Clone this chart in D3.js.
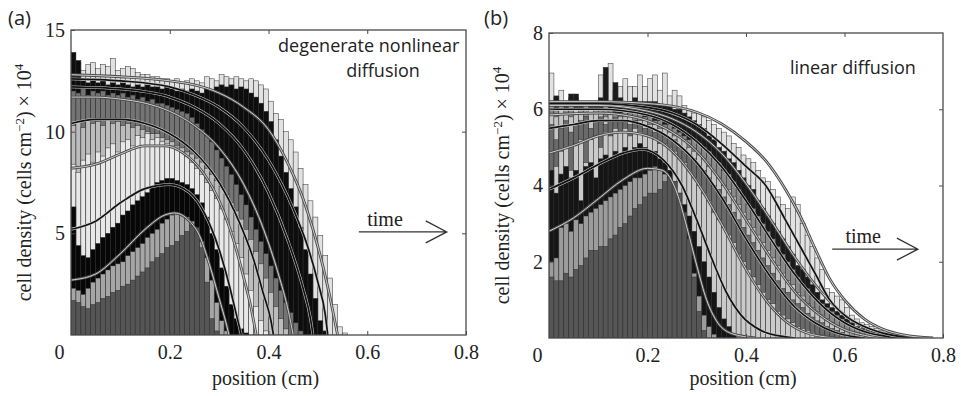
<!DOCTYPE html>
<html>
<head>
<meta charset="utf-8">
<script src="https://cdn.jsdelivr.net/npm/d3@7"></script>
<style>
  body { margin: 0; background: #fff; }
  svg { display: block; }
</style>
</head>
<body>
<svg id="chart" width="961" height="396"></svg>
<script>
// ---- data (x in cm, densities in cells cm^-2 x 10^4) ----
const binWidth = 0.01;
const xTicks = [0, 0.2, 0.4, 0.6, 0.8];

// panel (a): histograms, earliest time first
const histA0 = [1.7,1.6,1.4,1.3,1.5,1.6,1.8,1.9,2.1,2.2,2.4,2.5,2.7,2.9,3.1,3.3,3.6,3.8,4.0,4.3,4.4,4.6,4.9,5.1,5.4,5.3,4.3,2.6,0.8,0.2];
const histA1 = [2.3,2.2,2.0,2.3,2.6,2.8,3.0,3.2,3.4,3.5,3.6,3.9,4.1,4.3,4.5,4.8,5.0,5.2,5.5,5.7,5.9,6.0,5.9,5.8,5.6,5.2,4.6,3.8,2.7,1.6,0.7,0.2];
const histA2 = [6.3,4.4,3.9,3.8,4.2,4.5,4.8,5.0,5.3,5.5,5.9,6.1,6.4,6.6,6.8,7.0,7.3,7.5,7.6,7.7,7.7,7.6,7.5,7.4,7.2,6.9,6.5,5.8,5.0,4.2,3.3,2.4,1.5,0.8,0.3,0.1];
const histA3 = [8.4,8.0,8.6,8.9,8.5,9.0,8.8,9.2,9.4,9.0,9.5,9.6,9.3,9.8,9.7,9.9,9.6,9.7,9.5,9.4,9.3,9.2,9.0,8.8,8.5,8.2,7.9,7.5,7.1,6.7,6.2,5.7,5.1,4.5,3.8,3.0,2.2,1.4,0.7,0.2];
const histA4 = [10.3,10.5,10.2,10.6,10.4,10.5,10.3,10.6,10.4,10.5,10.3,10.4,10.2,10.3,10.1,10.0,9.9,9.9,9.7,9.6,9.5,9.3,9.2,9.0,8.9,8.7,8.5,8.2,7.9,7.6,7.3,6.9,6.5,6.1,5.7,5.2,4.7,4.1,3.5,2.8,2.1,1.4,0.8,0.3];
const histA5 = [12.0,11.9,12.1,11.8,12.0,11.9,12.0,11.8,11.9,11.8,11.9,11.7,11.8,11.6,11.7,11.5,11.6,11.4,11.4,11.3,11.2,11.1,11.0,10.9,10.7,10.4,10.1,9.8,9.5,9.1,8.7,8.3,7.9,7.4,6.9,6.4,5.8,5.2,4.6,4.0,3.4,2.8,2.2,1.6,1.1,0.6,0.2];
const histA6 = [13.9,13.5,12.5,12.4,12.5,12.4,12.5,12.3,12.4,12.3,12.4,12.3,12.2,12.3,12.2,12.3,12.2,12.2,12.1,12.2,12.1,12.0,12.1,12.0,12.1,12.0,11.9,12.1,12.0,12.2,12.3,12.2,12.3,12.1,12.2,12.1,11.9,11.7,11.4,11.0,10.5,9.6,8.8,8.0,7.2,6.3,5.3,4.2,3.0,1.8,0.7,0.2];
const histA7 = [13.2,13.4,13.0,13.3,13.4,13.1,13.3,13.2,13.6,13.0,13.1,13.2,13.1,12.9,12.8,12.8,12.7,12.7,12.6,12.6,12.5,12.6,12.4,12.5,12.6,12.5,12.4,12.7,12.6,12.5,12.8,12.7,12.6,12.7,12.6,12.5,12.6,12.5,12.3,12.1,11.5,10.9,10.6,10.0,9.6,9.0,8.2,7.4,6.6,5.8,4.9,3.9,2.8,1.5,0.4,0.1];

// panel (a): model solutions [x, density]
const curveA0 = [[0,2.7],[0.05,3.0],[0.1,4.0],[0.15,5.2],[0.19,5.9],[0.21,6.0],[0.24,5.6],[0.26,4.9],[0.28,3.5],[0.30,1.8],[0.315,0.5],[0.32,0]];
const curveA1 = [[0,5.2],[0.05,5.6],[0.1,6.5],[0.15,7.2],[0.2,7.4],[0.24,7.0],[0.27,6.0],[0.3,4.2],[0.32,2.5],[0.335,1.0],[0.345,0]];
const curveA2 = [[0,8.2],[0.05,8.4],[0.1,8.9],[0.15,9.3],[0.19,9.3],[0.23,8.9],[0.27,7.9],[0.3,6.6],[0.33,4.6],[0.35,2.8],[0.365,1.3],[0.375,0]];
const curveA3 = [[0,10.4],[0.05,10.6],[0.1,10.6],[0.15,10.4],[0.2,9.9],[0.25,9.0],[0.3,7.5],[0.34,5.6],[0.37,3.7],[0.39,2.0],[0.405,0.7],[0.41,0]];
const curveA4 = [[0,11.7],[0.05,11.7],[0.1,11.6],[0.15,11.4],[0.2,11.0],[0.25,10.3],[0.3,9.2],[0.35,7.4],[0.39,5.2],[0.42,3.0],[0.44,1.2],[0.45,0]];
const curveA5 = [[0,12.2],[0.1,12.1],[0.2,11.7],[0.25,11.2],[0.3,10.4],[0.35,9.1],[0.4,7.0],[0.44,4.6],[0.47,2.3],[0.485,0.8],[0.49,0]];
const curveA6 = [[0,12.6],[0.1,12.5],[0.2,12.2],[0.25,11.8],[0.3,11.2],[0.35,10.2],[0.4,8.6],[0.45,6.2],[0.48,4.3],[0.5,2.6],[0.515,1.0],[0.52,0]];
const curveA7 = [[0,12.8],[0.1,12.7],[0.2,12.5],[0.25,12.3],[0.3,11.9],[0.35,11.2],[0.4,10.1],[0.44,8.4],[0.47,6.7],[0.49,5.2],[0.51,3.4],[0.525,1.8],[0.535,0.6],[0.54,0]];

// panel (b): histograms, earliest time first
const histB0 = [1.6,1.5,1.5,1.7,1.6,1.8,1.9,2.1,2.3,2.3,2.4,2.4,2.6,2.7,2.9,3.0,3.2,3.4,3.5,3.7,3.8,3.8,3.9,4.1,4.2,4.1,3.8,3.3,2.6,1.6,0.7,0.2];
const histB1 = [2.0,2.1,2.9,3.0,2.8,3.1,3.0,3.2,3.3,3.4,3.5,3.6,3.7,3.8,3.9,4.0,4.1,4.2,4.2,4.3,4.4,4.5,4.4,4.3,4.1,3.8,3.4,2.9,2.3,1.7,1.1,0.6,0.3,0.1];
const histB2 = [4.4,3.8,4.3,4.5,4.2,4.4,3.6,4.5,4.6,4.2,4.7,4.8,4.7,4.9,4.8,5.0,4.9,5.0,5.1,5.0,4.9,4.9,4.7,4.6,4.4,4.1,3.8,3.5,3.2,2.8,2.4,2.0,1.6,1.2,0.8,0.5,0.3,0.1];
const histB3 = [4.0,4.5,4.9,5.0,4.4,5.1,5.2,4.6,5.2,5.3,5.0,5.4,5.3,5.5,5.4,5.5,5.3,5.5,5.4,5.3,5.3,5.2,5.1,5.1,5.0,4.9,4.7,4.6,4.4,4.2,4.0,3.8,3.6,3.3,3.1,2.9,2.7,2.5,2.2,2.0,1.8,1.6,1.4,1.2,1.0,0.9,0.7,0.6,0.5,0.4,0.3,0.25,0.2,0.15,0.1,0.08,0.05];
const histB4 = [5.6,5.2,5.5,5.7,5.4,5.6,5.7,5.8,5.5,5.7,5.8,5.6,5.7,5.8,5.7,5.7,5.6,5.7,5.6,5.5,5.5,5.4,5.4,5.3,5.2,5.2,5.0,4.9,4.8,4.7,4.5,4.4,4.2,4.0,3.9,3.7,3.5,3.3,3.1,2.9,2.7,2.5,2.3,2.1,1.9,1.7,1.5,1.3,1.2,1.0,0.9,0.8,0.65,0.55,0.45,0.4,0.3,0.25,0.2,0.15,0.1,0.08,0.05];
const histB5 = [5.9,5.8,6.0,5.9,5.8,6.0,5.9,5.8,6.0,5.9,5.9,5.8,5.9,5.9,5.8,5.8,5.8,5.7,5.7,5.7,5.6,5.6,5.5,5.5,5.4,5.3,5.3,5.2,5.0,4.9,4.8,4.7,4.5,4.4,4.2,4.0,3.9,3.7,3.5,3.3,3.1,2.9,2.7,2.5,2.3,2.1,1.9,1.7,1.5,1.4,1.2,1.1,0.9,0.8,0.7,0.6,0.5,0.4,0.3,0.25,0.2,0.15,0.1,0.08,0.06,0.04];
const histB6 = [6.1,6.0,6.1,6.0,6.1,6.0,6.0,6.1,6.0,6.0,6.0,6.1,6.0,5.9,5.9,6.0,5.9,5.9,5.9,5.8,5.8,5.7,5.7,5.6,5.6,5.5,5.4,5.3,5.2,5.2,5.1,5.0,4.9,4.7,4.6,4.4,4.3,4.1,3.9,3.7,3.5,3.4,3.2,3.0,2.8,2.6,2.4,2.2,2.0,1.8,1.6,1.4,1.3,1.1,1.0,0.9,0.8,0.7,0.6,0.5,0.4,0.3,0.25,0.2,0.15,0.1,0.08,0.05,0.03];
const histB7 = [6.2,6.35,6.2,6.2,6.4,6.4,6.2,6.2,6.2,6.2,6.3,7.1,6.2,6.7,6.3,6.2,6.2,6.3,6.2,6.2,6.2,6.2,6.1,6.1,6.1,6.0,6.0,5.9,5.8,5.7,5.6,5.5,5.3,5.2,5.0,4.9,4.7,4.6,4.4,4.2,4.0,3.9,3.6,3.4,3.2,3.0,2.8,2.6,2.4,2.2,1.9,1.8,1.6,1.4,1.2,1.0,0.9,0.8,0.7,0.6,0.5,0.4,0.3,0.25,0.2,0.15,0.1,0.08,0.06,0.04,0.03,0.02];
const histB8 = [6.95,6.3,6.5,6.2,6.3,6.3,6.2,6.2,6.2,6.2,6.9,6.9,7.2,6.5,6.6,6.8,6.6,6.6,6.9,6.6,6.8,6.9,6.5,6.95,6.35,6.5,6.35,6.1,6.0,5.9,5.9,5.8,5.7,5.6,5.5,5.4,5.3,5.1,5.0,4.8,4.7,4.6,4.4,4.2,4.1,3.9,3.7,3.5,3.4,3.7,3.5,3.0,2.7,2.4,2.1,1.8,1.3,1.2,1.1,1.0,0.8,0.6,0.5,0.4,0.35,0.3,0.25,0.2,0.15,0.12,0.1,0.08,0.06,0.05];

// panel (b): model solutions [x, density]
const curveB0 = [[0,2.8],[0.05,3.15],[0.1,3.65],[0.15,4.15],[0.2,4.45],[0.23,4.4],[0.26,3.8],[0.28,2.9],[0.30,1.9],[0.32,1.0],[0.34,0.45],[0.37,0.12],[0.42,0]];
const curveB1 = [[0,3.9],[0.05,4.2],[0.1,4.55],[0.15,4.85],[0.19,4.95],[0.23,4.7],[0.27,4.0],[0.3,3.1],[0.33,2.1],[0.36,1.2],[0.39,0.6],[0.43,0.2],[0.48,0.03],[0.5,0]];
const curveB2 = [[0,4.85],[0.05,5.05],[0.1,5.3],[0.15,5.4],[0.2,5.3],[0.25,4.9],[0.3,4.1],[0.35,3.0],[0.4,1.8],[0.44,1.0],[0.48,0.45],[0.52,0.15],[0.56,0.03],[0.58,0]];
const curveB3 = [[0,5.5],[0.05,5.6],[0.1,5.7],[0.15,5.7],[0.2,5.55],[0.25,5.2],[0.3,4.6],[0.35,3.7],[0.4,2.6],[0.45,1.6],[0.5,0.8],[0.54,0.4],[0.58,0.15],[0.62,0.03],[0.64,0]];
const curveB4 = [[0,5.85],[0.1,5.9],[0.15,5.85],[0.2,5.7],[0.25,5.4],[0.3,4.9],[0.35,4.1],[0.4,3.1],[0.45,2.1],[0.5,1.2],[0.55,0.6],[0.6,0.22],[0.64,0.07],[0.67,0]];
const curveB5 = [[0,6.0],[0.1,6.0],[0.2,5.85],[0.25,5.6],[0.3,5.15],[0.35,4.5],[0.4,3.6],[0.45,2.6],[0.5,1.65],[0.55,0.9],[0.6,0.4],[0.65,0.13],[0.69,0.03],[0.7,0]];
const curveB6 = [[0,6.1],[0.1,6.1],[0.2,5.95],[0.25,5.75],[0.3,5.4],[0.35,4.85],[0.4,4.05],[0.45,3.1],[0.5,2.1],[0.55,1.25],[0.6,0.6],[0.65,0.22],[0.7,0.06],[0.72,0]];
const curveB7 = [[0,6.15],[0.1,6.15],[0.2,6.05],[0.25,5.9],[0.3,5.6],[0.35,5.1],[0.4,4.5],[0.44,4.0],[0.48,3.1],[0.51,2.4],[0.54,1.7],[0.57,1.0],[0.6,0.6],[0.64,0.3],[0.68,0.12],[0.74,0]];
const curveB8 = [[0,6.2],[0.1,6.2],[0.2,6.15],[0.25,6.08],[0.3,5.92],[0.35,5.62],[0.4,5.15],[0.44,4.65],[0.48,3.9],[0.51,3.2],[0.54,2.35],[0.57,1.55],[0.6,1.0],[0.64,0.5],[0.68,0.22],[0.72,0.08],[0.78,0]];

// ---- styling ----
const fillsA = ['#555555', '#a6a6a6', '#070707', '#e8e8e8', '#bcbcbc', '#747474', '#0d0d0d', '#e2e2e2'];
const tonesA = ['g', 'k', 'g', 'k', 'g', 'k', 'k', 'g'];
const fillsB = ['#565656', '#9c9c9c', '#151515', '#cacaca', '#6a6a6a', '#c4c4c4', '#8a8a8a', '#1a1a1a', '#e2e2e2'];
const tonesB = ['g', 'k', 'g', 'k', 'g', 'k', 'g', 'k', 'g'];

const svg = d3.select('#chart');
const serif = "'Liberation Serif', 'DejaVu Serif', serif";
const sans = "'Open Sans', 'Noto Sans', sans-serif";

function drawPanel(p) {
  const x = d3.scaleLinear().domain([0, 0.8]).range([p.left, p.right]);
  const y = d3.scaleLinear().domain([0, p.yMax]).range([p.bottom, p.top]);
  const g = svg.append('g');

  g.append('clipPath').attr('id', 'clip-' + p.id)
    .append('rect')
    .attr('x', p.left).attr('y', p.top)
    .attr('width', p.right - p.left).attr('height', p.bottom - p.top);

  const plot = g.append('g').attr('clip-path', 'url(#clip-' + p.id + ')');

  // histograms, latest (widest) at the back
  for (let i = p.hists.length - 1; i >= 0; i--) {
    plot.append('g')
      .selectAll('rect')
      .data(p.hists[i])
      .join('rect')
      .attr('x', (d, k) => x(k * binWidth))
      .attr('width', (d, k) => x((k + 1) * binWidth) - x(k * binWidth))
      .attr('y', d => y(d))
      .attr('height', d => y(0) - y(d))
      .attr('fill', p.fills[i])
      .attr('stroke', '#2e2e2e')
      .attr('stroke-width', 0.5);
  }

  const line = d3.line()
    .x(d => x(d[0]))
    .y(d => y(d[1]))
    .curve(d3.curveMonotoneX);

  p.curves.forEach((c, i) => {
    if (p.tones[i] === 'g') {
      plot.append('path').attr('d', line(c))
        .attr('fill', 'none').attr('stroke', '#4a4a4a').attr('stroke-width', 2.8);
      plot.append('path').attr('d', line(c))
        .attr('fill', 'none').attr('stroke', '#f0f0f0').attr('stroke-width', 0.8);
    } else {
      plot.append('path').attr('d', line(c))
        .attr('fill', 'none').attr('stroke', '#d0d0d0').attr('stroke-width', 2.8);
      plot.append('path').attr('d', line(c))
        .attr('fill', 'none').attr('stroke', '#111').attr('stroke-width', 1.7);
    }
  });

  // frame
  g.append('rect')
    .attr('x', p.left).attr('y', p.top)
    .attr('width', p.right - p.left).attr('height', p.bottom - p.top)
    .attr('fill', 'none').attr('stroke', '#4a4a4a').attr('stroke-width', 1.3);

  // axes
  const xAxis = g.append('g')
    .attr('transform', 'translate(0,' + p.bottom + ')')
    .call(d3.axisBottom(x).tickValues(xTicks).tickFormat(d3.format('')).tickSizeInner(-4).tickSizeOuter(0).tickPadding(10));
  const yAxis = g.append('g')
    .attr('transform', 'translate(' + p.left + ',0)')
    .call(d3.axisLeft(y).tickValues(p.yTicks).tickSizeInner(-4).tickSizeOuter(0).tickPadding(6));
  g.append('g')
    .attr('transform', 'translate(0,' + p.top + ')')
    .call(d3.axisTop(x).tickValues(xTicks.slice(1, -1)).tickSizeInner(-4).tickSizeOuter(0).tickFormat(''));
  g.append('g')
    .attr('transform', 'translate(' + p.right + ',0)')
    .call(d3.axisRight(y).tickValues(p.yTicks.slice(0, -1)).tickSizeInner(-4).tickSizeOuter(0).tickFormat(''));

  g.selectAll('.domain').remove();
  g.selectAll('.tick line').attr('stroke', '#4a4a4a');
  [xAxis, yAxis].forEach(a => a.selectAll('text')
    .attr('font-family', serif).attr('font-size', 20).attr('fill', '#222'));
  xAxis.selectAll('.tick text').filter(d => d === 0).attr('dx', -12);

  // axis titles
  g.append('text')
    .attr('x', (p.left + p.right) / 2 - 3).attr('y', 385)
    .attr('text-anchor', 'middle')
    .attr('font-family', serif).attr('font-size', 20).attr('fill', '#222')
    .text('position (cm)');

  const yt = g.append('text')
    .attr('transform', 'translate(' + p.titleX + ',' + ((p.top + p.bottom) / 2) + ') rotate(-90)')
    .attr('text-anchor', 'middle')
    .attr('font-family', serif).attr('font-size', 20).attr('fill', '#222');
  yt.append('tspan').text('cell density (cells cm');
  yt.append('tspan').attr('dy', -7).attr('font-size', 13).text('\u22122');
  yt.append('tspan').attr('dy', 7).text(') \u00d7 10');
  yt.append('tspan').attr('dy', -8).attr('font-size', 13).text('4');

  // panel letter
  g.append('text')
    .attr('x', p.letterX).attr('y', 25)
    .attr('font-family', sans).attr('font-size', 20).attr('fill', '#222')
    .text(p.letter);

  // titles inside the plot
  p.labels.forEach(l => {
    g.append('text')
      .attr('x', x(l.x)).attr('y', y(l.y))
      .attr('text-anchor', 'middle')
      .attr('font-family', sans).attr('font-size', 18).attr('fill', '#222')
      .text(l.text);
  });

  // time arrow
  const ax0 = x(p.arrow[0]), ax1 = x(p.arrow[1]), ay = y(p.arrow[2]);
  g.append('path')
    .attr('d', 'M' + ax0 + ',' + ay + 'H' + ax1 + 'M' + (ax1 - 21) + ',' + (ay - 11) + 'L' + ax1 + ',' + ay + 'L' + (ax1 - 21) + ',' + (ay + 11))
    .attr('fill', 'none').attr('stroke', '#333').attr('stroke-width', 1.3);
  g.append('text')
    .attr('x', x(p.timeLabel[0])).attr('y', y(p.timeLabel[1]))
    .attr('text-anchor', 'middle')
    .attr('font-family', serif).attr('font-size', 20).attr('fill', '#222')
    .text('time');
}

drawPanel({
  id: 'a', letter: '(a)', letterX: 8, titleX: 31,
  left: 71, right: 466, top: 30, bottom: 335, yMax: 15,
  yTicks: [5, 10, 15],
  hists: [histA0, histA1, histA2, histA3, histA4, histA5, histA6, histA7],
  curves: [curveA0, curveA1, curveA2, curveA3, curveA4, curveA5, curveA6, curveA7],
  fills: fillsA, tones: tonesA,
  labels: [
    { text: 'degenerate nonlinear', x: 0.603, y: 13.9 },
    { text: 'diffusion', x: 0.632, y: 12.7 }
  ],
  arrow: [0.583, 0.761, 5.07],
  timeLabel: [0.636, 5.35]
});

drawPanel({
  id: 'b', letter: '(b)', letterX: 484, titleX: 509,
  left: 549, right: 943, top: 33, bottom: 338, yMax: 8,
  yTicks: [2, 4, 6, 8],
  hists: [histB0, histB1, histB2, histB3, histB4, histB5, histB6, histB7, histB8],
  curves: [curveB0, curveB1, curveB2, curveB3, curveB4, curveB5, curveB6, curveB7, curveB8],
  fills: fillsB, tones: tonesB,
  labels: [
    { text: 'linear diffusion', x: 0.617, y: 6.92 }
  ],
  arrow: [0.575, 0.749, 2.33],
  timeLabel: [0.638, 2.5]
});
</script>
</body>
</html>
